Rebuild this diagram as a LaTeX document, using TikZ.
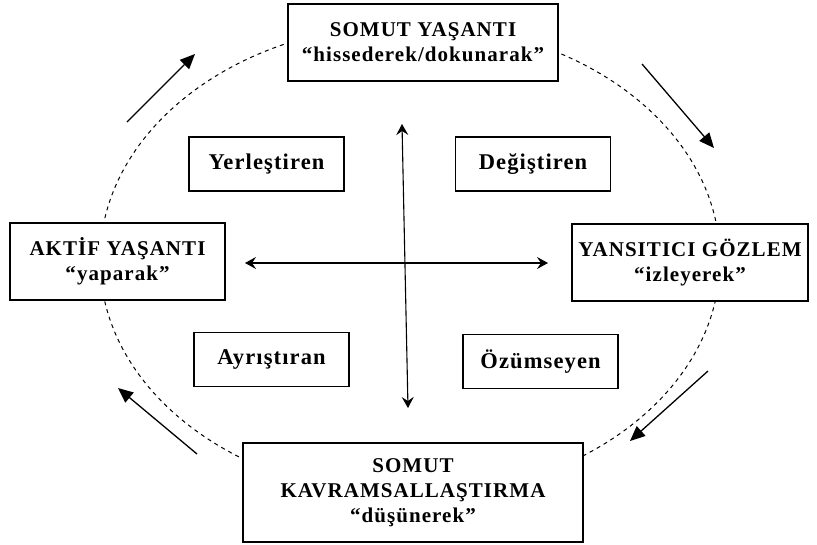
\documentclass[tikz,border=0pt]{standalone}
\usepackage{fontspec}
\setmainfont{Liberation Serif}[LetterSpace=5]
\usetikzlibrary{arrows.meta}
\begin{document}
\begin{tikzpicture}[x=1pt,y=-1pt,
  bigbox/.style={draw, line width=1.2pt, fill=white, align=center, inner sep=0pt, font=\bfseries\fontsize{21}{25}\selectfont},
  smallbox/.style={draw, line width=1.1pt, fill=white, inner sep=0pt, minimum width=155pt, minimum height=54pt, font=\bfseries\fontsize{22.5}{26}\selectfont},
  cross/.style={line width=1.1pt, {Stealth[length=11pt,width=12pt,inset=4pt]}-{Stealth[length=11pt,width=12pt,inset=4pt]}},
  flow/.style={line width=1.3pt, -{Triangle[length=15pt,width=13pt]}},
  cyc/.style={dash pattern=on 4pt off 4pt, line width=1pt}
]
\useasboundingbox (0,0) rectangle (817,544);
\draw[cyc] (410,260) ellipse [x radius=310, y radius=236];

\node[bigbox, minimum width=270pt, minimum height=77pt] (somut) at (423,42.5) {SOMUT YAŞANTI\\“hissederek/dokunarak”};
\node[bigbox, minimum width=215pt, minimum height=77pt] (aktif) at (117.5,261.5) {AKTİF YAŞANTI\\“yaparak”};
\node[bigbox, minimum width=236pt, minimum height=77pt] (yans) at (690,262.5) {YANSITICI GÖZLEM\\“izleyerek”};
\node[bigbox, minimum width=340pt, minimum height=99pt] (kavr) at (413,492.5) {SOMUT\\KAVRAMSALLAŞTIRMA\\“düşünerek”};

\node[smallbox] (yer) at (266.5,164) {Yerleştiren};
\node[smallbox] (deg) at (533,164) {Değiştiren};
\node[smallbox] (ayr) at (271.5,359.5) {Ayrıştıran};
\node[smallbox] (ozu) at (540.5,361.5) {Özümseyen};

\coordinate (vt) at (402,124);
\coordinate (vb) at (408,408);
\coordinate (hl) at (245,263);
\coordinate (hr) at (548,263);
\draw[cross] (vb) -- (vt);
\draw[cross] (hl) -- (hr);

\coordinate (a1s) at (127,122); \coordinate (a1e) at (195,54);
\coordinate (a2s) at (642,64);  \coordinate (a2e) at (714,148);
\coordinate (a3s) at (708,371); \coordinate (a3e) at (630,441);
\coordinate (a4s) at (197,454); \coordinate (a4e) at (118,388);
\draw[flow] (a1s) -- (a1e);
\draw[flow] (a2s) -- (a2e);
\draw[flow] (a3s) -- (a3e);
\draw[flow] (a4s) -- (a4e);
\end{tikzpicture}
\end{document}
